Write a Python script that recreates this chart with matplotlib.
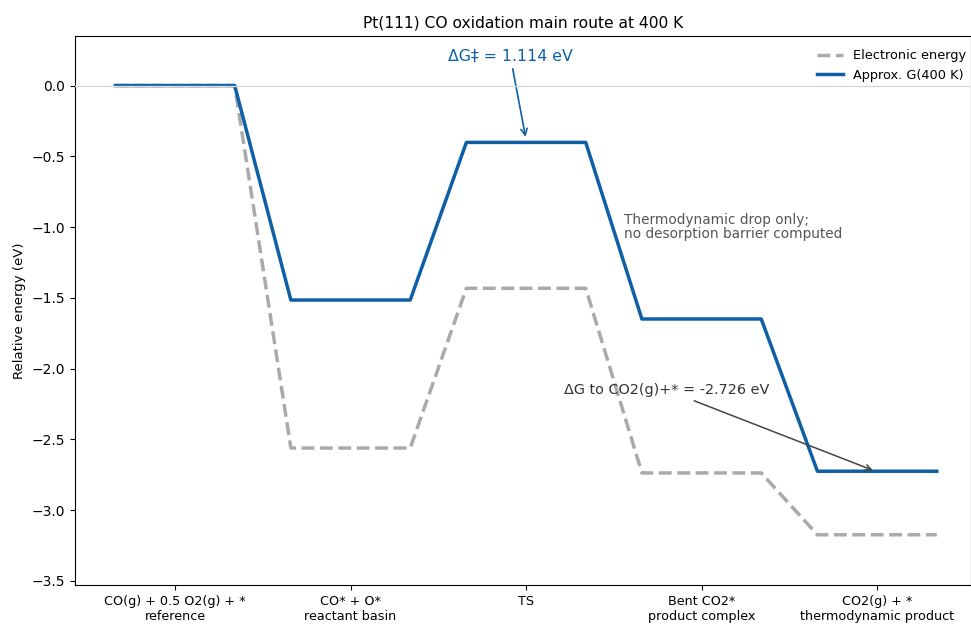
import matplotlib
matplotlib.use("Agg")
import matplotlib.pyplot as plt
import numpy as np

states = ["CO(g) + 0.5 O2(g) + *\nreference", "CO* + O*\nreactant basin", "TS",
          "Bent CO2*\nproduct complex", "CO2(g) + *\nthermodynamic product"]
electronic = [0.0, -2.562, -1.433, -2.738, -3.175]
gibbs = [0.0, -1.516, -0.402, -1.650, -2.726]
barrier = 1.114
dg_total = -2.726

BLUE = "#0e5fa6"
GREY = "#aaaaaa"
hw = 0.34

def path(vals):
    xs, ys = [], []
    for i, v in enumerate(vals):
        xs += [i - hw, i + hw]
        ys += [v, v]
    return xs, ys

fig = plt.figure(figsize=(9.71, 6.24), dpi=100)
ax = fig.add_axes([0.0772, 0.0625, 0.9228, 0.8798])

ax.axhline(0, color="#d9d9d9", lw=1.0, zorder=4)
xe, ye = path(electronic)
ax.plot(xe, ye, color=GREY, lw=2.5, ls="--", label="Electronic energy", zorder=2)
xg, yg = path(gibbs)
ax.plot(xg, yg, color=BLUE, lw=2.5, label="Approx. G(400 K)", zorder=3)

ax.annotate(f"ΔG‡ = {barrier:.3f} eV", xy=(2.0, gibbs[2] + 0.02), xytext=(1.91, 0.21),
            ha="center", va="center", color=BLUE, fontsize=11.3,
            arrowprops=dict(arrowstyle="->", color=BLUE, lw=1.2))
ax.annotate(f"ΔG to CO2(g)+* = {dg_total:.3f} eV", xy=(3.99, gibbs[4]), xytext=(2.8, -2.152),
            ha="center", va="center", color="#333333", fontsize=10.4,
            arrowprops=dict(arrowstyle="->", color="#444444", lw=1.1))
ax.text(2.56, -1.0, "Thermodynamic drop only;\nno desorption barrier computed",
        color="#555555", fontsize=9.8, ha="left", va="center", linespacing=1.0)

ax.set_xticks(range(len(states)))
ax.set_xticklabels(states, fontsize=9.2)
ax.set_xlim(-0.57, 4.535)
ax.set_ylim(-3.53, 0.35)
ax.set_yticks(np.arange(-3.5, 0.01, 0.5))
ax.set_ylabel("Relative energy (eV)", fontsize=9.5)
ax.set_title("Pt(111) CO oxidation main route at 400 K", fontsize=11.2)
ax.legend(loc="upper right", frameon=False, fontsize=9.3, borderaxespad=0.2,
          bbox_to_anchor=(1.0035, 0.99))

fig.savefig("out.png", dpi=100)
